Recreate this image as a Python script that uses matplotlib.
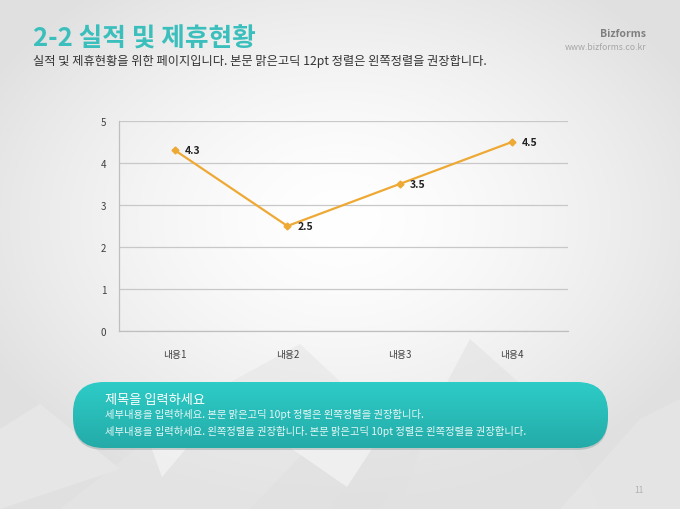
import numpy as np
import matplotlib
matplotlib.use("Agg")
import matplotlib.pyplot as plt
from matplotlib.patches import FancyBboxPatch, Polygon

plt.rcParams['font.family'] = ['Noto Sans CJK KR', 'DejaVu Sans']

# --- data ---
categories = ['내용1', '내용2', '내용3', '내용4']
values = [4.3, 2.5, 3.5, 4.5]
y_ticks = [0, 1, 2, 3, 4, 5]

title = '2-2 실적 및 제휴현황'
subtitle = '실적 및 제휴현황을 위한 페이지입니다. 본문 맑은고딕 12pt 정렬은 왼쪽정렬을 권장합니다.'
box_title = '제목을 입력하세요'
box_lines = ['세부내용을 입력하세요. 본문 맑은고딕 10pt 정렬은 왼쪽정렬을 권장합니다.',
             '세부내용을 입력하세요. 왼쪽정렬을 권장합니다. 본문 맑은고딕 10pt 정렬은 왼쪽정렬을 권장합니다.']

W, H = 680, 510
fig = plt.figure(figsize=(W / 100, H / 100), dpi=100)

# --- background: radial gradient + faint mountains ---
bg = fig.add_axes([0, 0, 1, 1])
bg.set_xlim(0, W)
bg.set_ylim(H, 0)
bg.axis('off')
yy, xx = np.mgrid[0:H, 0:W]
r = np.sqrt(((xx - 340) / 400.0) ** 2 + ((yy - 220) / 290.0) ** 2)
g = np.clip(1.0 - 0.12 * r ** 1.5, 0.88, 1.0)
bg.imshow(np.dstack([g, g, g]), extent=(0, W, H, 0), zorder=0)

mountains = [
    [(0, 430), (40, 405), (120, 470), (0, 510)],
    [(60, 510), (200, 400), (300, 345), (380, 420), (330, 510)],
    [(250, 510), (360, 395), (420, 450), (400, 510)],
    [(380, 510), (470, 340), (560, 420), (600, 510)],
    [(560, 510), (640, 420), (680, 400), (680, 510)],
]
shades = ['#ebebeb', '#e6e6e6', '#e0e0e0', '#e2e2e2', '#e8e8e8']
for pts, c in zip(mountains, shades):
    bg.add_patch(Polygon(pts, closed=True, facecolor=c, edgecolor='none', alpha=0.6, zorder=1))
# lighter facets below the box
for pts in [[(150, 445), (190, 445), (162, 478)], [(285, 445), (375, 445), (347, 488)]]:
    bg.add_patch(Polygon(pts, closed=True, facecolor='#f3f3f3', edgecolor='none', alpha=0.8, zorder=1))

# --- header ---
bg.text(33, 47, title, color='#3bbfbc', fontsize=18.5, fontweight='bold', va='baseline', zorder=5)
bg.text(33, 65, subtitle, color='#333333', fontsize=8.8, va='baseline', zorder=5)
bg.text(646, 37, 'Bizforms', color='#7f7f7f', fontsize=7.5, fontweight='bold', ha='right', va='baseline', zorder=5)
bg.text(646, 50, 'www.bizforms.co.kr', color='#a6a6a6', fontsize=6.3, ha='right', va='baseline', zorder=5)
bg.text(643, 493, '11', color='#b0b0b0', fontsize=6, ha='right', va='baseline', zorder=5)

# --- teal rounded box with vertical gradient ---
bx, by, bw, bh = 73, 383, 535, 66
shadow = FancyBboxPatch((bx, by + 2), bw, bh, boxstyle='round,pad=0,rounding_size=31',
                        facecolor='#9aa9a8', edgecolor='none', alpha=0.5, zorder=2)
bg.add_patch(shadow)
box = FancyBboxPatch((bx, by), bw, bh, boxstyle='round,pad=0,rounding_size=31',
                     facecolor='none', edgecolor='none', zorder=3)
bg.add_patch(box)
t = np.linspace(0, 1, 64)[:, None]
top = np.array([0.18, 0.80, 0.78])
bot = np.array([0.14, 0.67, 0.66])
grad = (top * (1 - t) + bot * t)[:, None, :].repeat(2, axis=1)
im = bg.imshow(grad, extent=(bx, bx + bw, by + bh, by), aspect='auto', zorder=3)
im.set_clip_path(box)
bg.text(105, 404, box_title, color='white', fontsize=9.5, fontweight='medium', va='baseline', zorder=5)
bg.text(105, 418, box_lines[0], color='#e6f7f6', fontsize=7.4, va='baseline', zorder=5)
bg.text(105, 435, box_lines[1], color='#e6f7f6', fontsize=7.4, va='baseline', zorder=5)

# --- line chart ---
ax = fig.add_axes([119 / W, 1 - 332 / H, (568 - 119) / W, (332 - 122) / H])
ax.patch.set_alpha(0)
x = np.arange(len(categories))
ax.plot(x, values, color='#eea935', linewidth=1.6, marker='D', markersize=3.5, zorder=3)
for xi, v in zip(x, values):
    ax.annotate(f'{v}', (xi, v), xytext=(7, 0), textcoords='offset points',
                fontsize=7.5, fontweight='bold', color='#222222', va='center', ha='left')

ax.set_xlim(-0.5, len(categories) - 0.5)
ax.set_ylim(0, 5)
ax.set_yticks(y_ticks)
ax.set_xticks(x)
ax.set_xticklabels(categories)
ax.grid(axis='y', color='#c8c8c8', linewidth=0.9)
ax.set_axisbelow(True)
for s in ['top', 'right']:
    ax.spines[s].set_visible(False)
for s in ['left', 'bottom']:
    ax.spines[s].set_color('#bfbfbf')
    ax.spines[s].set_linewidth(0.9)
ax.tick_params(length=0, labelsize=7, colors='#404040')
ax.tick_params(axis='x', pad=13)
ax.tick_params(axis='y', pad=9)

fig.savefig('out.png', dpi=100)
